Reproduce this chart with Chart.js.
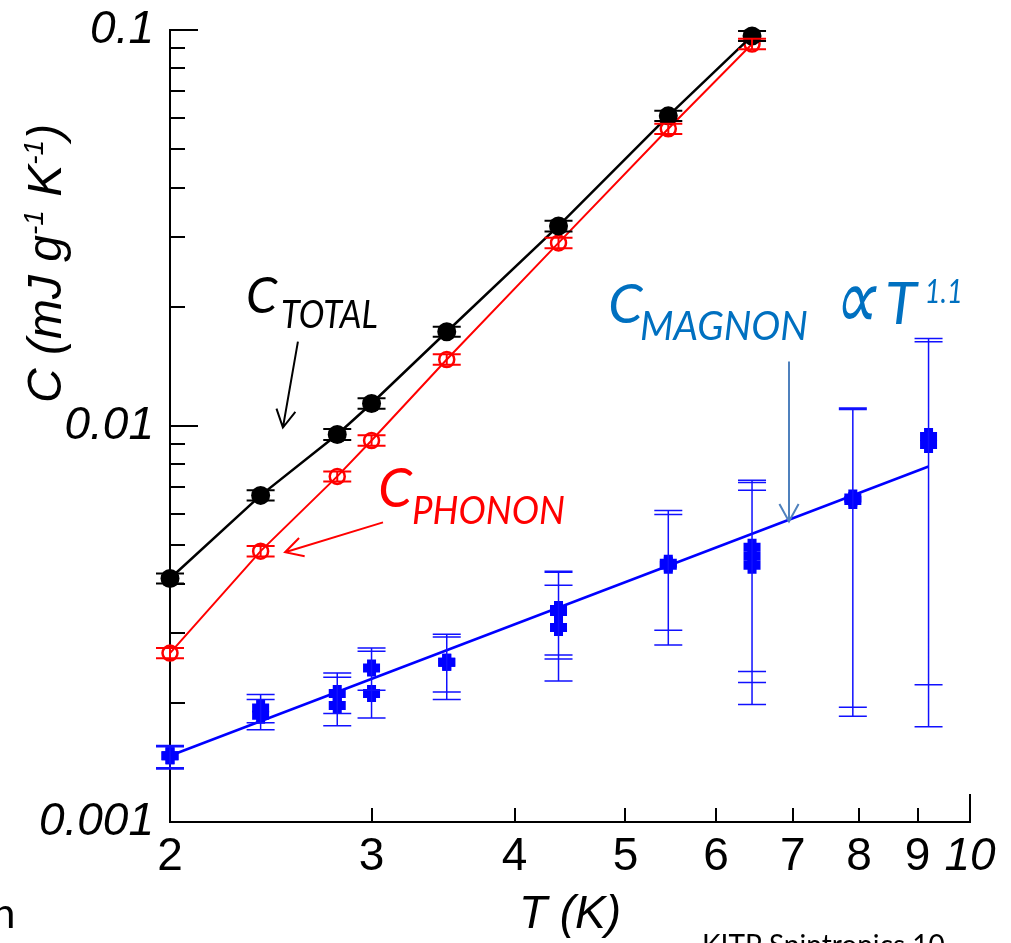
<!DOCTYPE html>
<html>
<head>
<meta charset="utf-8">
<script src="https://cdn.jsdelivr.net/npm/chart.js@4.4.0/dist/chart.umd.min.js"></script>
<style>
  html, body { margin: 0; padding: 0; background: #fff; }
  #wrap { width: 1011px; height: 943px; }
</style>
</head>
<body>
<div id="wrap"><canvas id="heatChart" width="1011" height="943"></canvas></div>
<script>
// Temperatures (K) and total specific heat (mJ g-1 K-1)
const totT = [2.0, 2.4, 2.8, 3.0, 3.49, 4.37, 5.45, 6.45];
const totC = [0.00412, 0.00668, 0.00952, 0.0114, 0.0173, 0.0320, 0.0607, 0.0966];
const totErr = [0.00012, 0.0002, 0.0003, 0.00035, 0.0005, 0.001, 0.0018, 0.0028];

// Phonon contribution
const phoT = [2.0, 2.4, 2.8, 3.0, 3.49, 4.37, 5.45, 6.45];
const phoC = [0.00267, 0.00483, 0.00746, 0.00919, 0.01472, 0.0290, 0.0563, 0.0922];
const phoErr = [0.00008, 0.00015, 0.00022, 0.00028, 0.00045, 0.0009, 0.0017, 0.0028];

// Magnon contribution (several runs per temperature)
const magT = [2.0, 2.0, 2.4, 2.4, 2.8, 2.8, 3.0, 3.0, 3.49, 3.49, 4.37, 4.37, 4.37,
              5.45, 5.45, 6.45, 6.45, 6.45, 7.9, 7.9, 9.2, 9.2];
const magC = [0.00147, 0.00147, 0.00194, 0.00186, 0.00211, 0.00197, 0.00245, 0.00211, 0.00253, 0.00253,
              0.00344, 0.0034, 0.0031, 0.0045, 0.00445, 0.00494, 0.00469, 0.00445, 0.00658, 0.00648,
              0.00941, 0.00898];
const magHi = [0.00156, 0.00155, 0.0021, 0.00204, 0.00238, 0.00232, 0.00275, 0.0027, 0.00298, 0.00293,
               0.0043, 0.00427, 0.00396, 0.00612, 0.00598, 0.00729, 0.0072, 0.00688, 0.0111, 0.0110,
               0.01663, 0.01633];
const magLo = [0.00137, 0.00136, 0.00178, 0.00171, 0.00188, 0.00175, 0.00215, 0.00183, 0.00213, 0.00204,
               0.00264, 0.00258, 0.00227, 0.00305, 0.0028, 0.0024, 0.00225, 0.00198, 0.00195, 0.00185,
               0.00222, 0.00174];

// T^1.1 fit (straight on log-log, end points)
const fitT = [2.0, 9.2];
const fitC = [0.00147, 0.0079];

// Axis ticks
const xTicks = [2, 3, 4, 5, 6, 7, 8, 9, 10];
const xTickLabels = ['2', '3', '4', '5', '6', '7', '8', '9', '10'];
const yMajor = [0.001, 0.01, 0.1];
const yMajorLabels = ['0.001', '0.01', '0.1'];
const yMinorSteps = [2, 3, 4, 5, 6, 7, 8, 9];

const yTickValues = [];
yMajor.forEach((d, i) => {
    yTickValues.push(d);
    if (i < yMajor.length - 1) yMinorSteps.forEach(m => yTickValues.push(d * m));
});

const pts = (xs, ys) => xs.map((t, i) => ({ x: t, y: ys[i] }));

// Annotations, anchored in data coordinates
const notes = [
    { text: 'C', at: [2.33, 0.01933], size: 50, color: '#000000' },
    { text: 'TOTAL', at: [2.50, 0.01772], size: 38, width: 97, color: '#000000' },
    { text: 'C', at: [3.04, 0.00623], size: 54, color: '#ff0000' },
    { text: 'PHONON', at: [3.254, 0.00564], size: 38, width: 153, color: '#ff0000' },
    { text: 'C', at: [4.83, 0.01824], size: 55, color: '#0070c0' },
    { text: 'MAGNON', at: [5.148, 0.01652], size: 40, width: 168, color: '#0070c0' },
    { text: '\u221D', at: [7.57, 0.01762], size: 88, width: 44, color: '#0070c0', weight: 300 },
    { text: 'T', at: [8.43, 0.0181], size: 58, color: '#0070c0' },
    { text: '1.1', at: [9.13, 0.0205], size: 32, width: 38, color: '#0070c0' }
];
const arrows = [
    { from: [2.587, 0.01633], to: [2.51, 0.00991], color: '#000000' },
    { from: [3.07, 0.00571], to: [2.521, 0.0048], color: '#ff0000' },
    { from: [6.948, 0.01455], to: [6.948, 0.00574], color: '#4f81bd' }
];

// Error bars
function drawBars(ctx, xs, ys, T, hi, lo, color, width) {
    ctx.strokeStyle = color;
    ctx.lineWidth = width;
    ctx.beginPath();
    T.forEach((t, i) => {
        const px = xs.getPixelForValue(t);
        const yh = ys.getPixelForValue(hi[i]);
        const yl = ys.getPixelForValue(lo[i]);
        ctx.moveTo(px, yh); ctx.lineTo(px, yl);
        ctx.moveTo(px - 14, yh); ctx.lineTo(px + 14, yh);
        ctx.moveTo(px - 14, yl); ctx.lineTo(px + 14, yl);
    });
    ctx.stroke();
}

const errorBars = {
    id: 'errorBars',
    afterDatasetsDraw(chart) {
        const { ctx, scales: { x, y } } = chart;
        ctx.save();
        drawBars(ctx, x, y, totT, totC.map((c, i) => c + totErr[i]), totC.map((c, i) => c - totErr[i]), '#000000', 2);
        drawBars(ctx, x, y, phoT, phoC.map((c, i) => c + phoErr[i]), phoC.map((c, i) => c - phoErr[i]), '#ff0000', 2);
        drawBars(ctx, x, y, magT, magHi, magLo, '#1010ff', 1.5);
        ctx.restore();
    }
};

// Tick marks pointing into the plot
const innerTicks = {
    id: 'innerTicks',
    beforeDatasetsDraw(chart) {
        const { ctx, scales: { x, y } } = chart;
        ctx.save();
        ctx.strokeStyle = '#000';
        ctx.lineWidth = 2;
        ctx.beginPath();
        yTickValues.forEach(v => {
            const py = Math.round(y.getPixelForValue(v));
            const len = yMajor.includes(v) ? 28 : 15;
            ctx.moveTo(x.left, py); ctx.lineTo(x.left + len, py);
        });
        xTicks.forEach(v => {
            if (v === xTicks[0]) return;
            const px = Math.round(x.getPixelForValue(v));
            const len = v === 10 ? 28 : 14;
            ctx.moveTo(px, y.bottom); ctx.lineTo(px, y.bottom - len);
        });
        ctx.stroke();
        ctx.restore();
    }
};

// Labels, arrows, rotated y title
const annotations = {
    id: 'annotations',
    afterDraw(chart) {
        const { ctx, scales: { x, y } } = chart;
        ctx.save();

        notes.forEach(n => {
            ctx.font = 'italic ' + (n.weight || 400) + ' ' + n.size + 'px ' + (n.family || 'Lato');
            ctx.fillStyle = n.color;
            ctx.textBaseline = 'alphabetic';
            ctx.textAlign = 'left';
            const px = x.getPixelForValue(n.at[0]);
            const py = y.getPixelForValue(n.at[1]);
            if (n.width) ctx.fillText(n.text, px, py, n.width);
            else ctx.fillText(n.text, px, py);
        });

        arrows.forEach(a => {
            const x0 = x.getPixelForValue(a.from[0]), y0 = y.getPixelForValue(a.from[1]);
            const x1 = x.getPixelForValue(a.to[0]), y1 = y.getPixelForValue(a.to[1]);
            const ang = Math.atan2(y1 - y0, x1 - x0);
            ctx.strokeStyle = a.color;
            ctx.lineWidth = 2;
            ctx.beginPath();
            ctx.moveTo(x0, y0); ctx.lineTo(x1, y1);
            ctx.moveTo(x1 - 20 * Math.cos(ang - 0.5), y1 - 20 * Math.sin(ang - 0.5));
            ctx.lineTo(x1, y1);
            ctx.lineTo(x1 - 20 * Math.cos(ang + 0.5), y1 - 20 * Math.sin(ang + 0.5));
            ctx.stroke();
        });

        // y axis title with superscripts
        ctx.translate(61, 403);
        ctx.rotate(-Math.PI / 2);
        ctx.fillStyle = '#000';
        let cx = 0;
        [['C (mJ g', false], ['-1', true], [' K', false], ['-1', true], [')', false]].forEach(([t, sup]) => {
            ctx.font = 'italic ' + (sup ? 28 : 48) + 'px "Liberation Sans"';
            ctx.fillText(t, cx, sup ? -18 : 0);
            cx += ctx.measureText(t).width;
        });
        ctx.restore();

        // slide leftovers at the edges
        ctx.save();
        ctx.fillStyle = '#000';
        ctx.font = '42px Lato';
        ctx.fillText('h', -8, 928);
        ctx.font = '28px Lato';
        ctx.fillText('KITP Spintronics 10', 702, 955);
        ctx.restore();
    }
};

const ctx = document.getElementById('heatChart').getContext('2d');
const heatChart = new Chart(ctx, {
    type: 'scatter',
    data: {
        datasets: [
            {
                label: 'C total',
                data: pts(totT, totC),
                showLine: true,
                borderColor: '#000000',
                borderWidth: 2.5,
                pointRadius: 9.5,
                pointBackgroundColor: '#000000',
                pointBorderWidth: 0,
                clip: false
            },
            {
                label: 'C phonon',
                data: pts(phoT, phoC),
                showLine: true,
                borderColor: '#ff0000',
                borderWidth: 2,
                pointRadius: 7.5,
                pointBackgroundColor: 'rgba(0,0,0,0)',
                pointBorderColor: '#ff0000',
                pointBorderWidth: 2.5,
                clip: false
            },
            {
                label: 'fit',
                data: pts(fitT, fitC),
                showLine: true,
                borderColor: '#0000ff',
                borderWidth: 2.5,
                pointRadius: 0,
                clip: false
            },
            {
                label: 'C magnon',
                data: pts(magT, magC),
                showLine: false,
                pointStyle: 'cross',
                pointRadius: 8.5,
                pointBorderWidth: 9,
                pointBorderColor: '#0000ff',
                clip: false
            }
        ]
    },
    options: {
        responsive: false,
        animation: false,
        devicePixelRatio: 1,
        layout: { padding: { top: 30, right: 41, left: 0, bottom: 0 } },
        plugins: {
            legend: { display: false },
            tooltip: { enabled: false }
        },
        scales: {
            x: {
                type: 'logarithmic',
                min: 2,
                max: 10,
                afterBuildTicks: s => { s.ticks = xTicks.map(v => ({ value: v })); },
                afterFit: s => { s.height = 121; s.paddingLeft = 0; s.paddingRight = 0; },
                grid: { display: false, drawTicks: false },
                border: { display: true, color: '#000', width: 2 },
                ticks: {
                    autoSkip: false,
                    maxRotation: 0,
                    padding: 8,
                    color: '#000',
                    callback: v => { const i = xTicks.indexOf(v); return i >= 0 ? xTickLabels[i] : ''; },
                    font: c => ({ family: '"Liberation Sans"', size: 46,
                        style: c.tick && c.tick.value === 10 ? 'italic' : 'normal' })
                },
                title: {
                    display: true,
                    text: 'T (K)',
                    color: '#000',
                    padding: { top: 0, bottom: 0 },
                    font: { family: '"Liberation Sans"', size: 46, style: 'italic' }
                }
            },
            y: {
                type: 'logarithmic',
                min: 0.001,
                max: 0.1,
                afterBuildTicks: s => { s.ticks = yTickValues.map(v => ({ value: v })); },
                afterFit: s => { s.width = 170; s.paddingTop = 0; s.paddingBottom = 0; },
                grid: { display: false, drawTicks: false },
                border: { display: true, color: '#000', width: 2 },
                ticks: {
                    autoSkip: false,
                    padding: 16,
                    color: '#000',
                    callback: v => { const i = yMajor.indexOf(v); return i >= 0 ? yMajorLabels[i] : ''; },
                    font: { family: '"Liberation Sans"', size: 46, style: 'italic' }
                }
            }
        }
    },
    plugins: [innerTicks, errorBars, annotations]
});
</script>
</body>
</html>
